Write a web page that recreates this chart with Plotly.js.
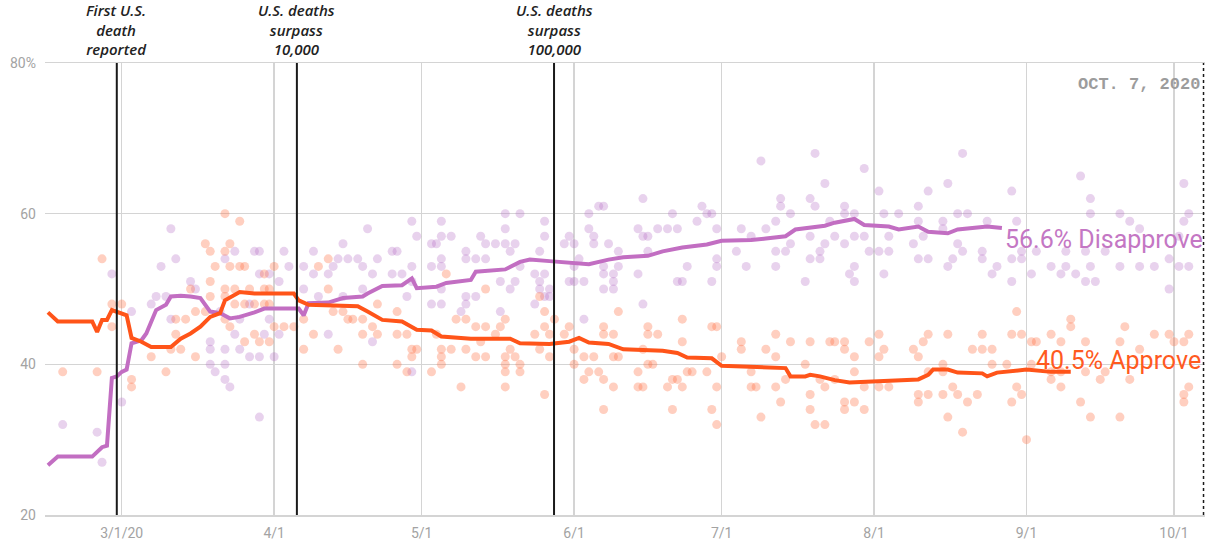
<!DOCTYPE html>
<html>
<head>
<meta charset="utf-8">
<script src="https://cdn.plot.ly/plotly-3.0.1.min.js"></script>
<style>
html,body{margin:0;padding:0;background:#fff;}
#chart{width:1205px;height:543px;}
</style>
</head>
<body>
<div id="chart"></div>
<script>
const YEAR = '2020-';

// Smoothed average lines
const approveLineDates = ['02-15','02-17','02-24','02-25','02-26','02-27','02-28','03-01','03-02','03-03',
  '03-05','03-07','03-11','03-13','03-15','03-17','03-19','03-21','03-22','03-25',
  '03-28','04-05','04-06','04-08','04-18','04-20','04-23','04-27','04-30','05-03',
  '05-05','05-11','05-19','05-21','05-27','05-31','06-02','06-04','06-08','06-11',
  '06-19','06-22','06-24','06-29','07-01','07-14','07-15','07-18','07-19','07-21',
  '07-24','07-27','07-30','08-10','08-12','08-13','08-16','08-18','08-23','08-24',
  '08-26','09-01','09-06','09-10'];
const approveLineValues = [46.9,45.7,45.7,44.3,45.9,45.9,47.2,46.8,46.5,43.5,
  43.0,42.3,42.3,43.4,44.1,45.0,46.3,46.8,48.5,49.6,
  49.4,49.4,48.5,47.9,47.7,47.0,45.9,45.7,44.6,44.5,
  43.7,43.4,43.4,42.8,42.7,43.0,43.5,42.9,42.7,42.0,
  41.8,41.5,40.9,40.8,39.8,39.5,38.4,38.4,38.6,38.4,
  37.9,37.6,37.7,38.0,38.6,39.3,39.3,38.9,38.8,38.4,
  38.9,39.3,39.0,39.0];

const disapproveLineDates = ['02-15','02-17','02-24','02-25','02-26','02-27','02-28','02-29','03-01','03-02',
  '03-03','03-05','03-06','03-08','03-10','03-11','03-13','03-15','03-17','03-19',
  '03-21','03-23','03-25','03-28','03-30','04-06','04-07','04-08','04-12','04-15',
  '04-19','04-20','04-23','04-27','04-29','04-30','05-04','05-06','05-11','05-12',
  '05-18','05-21','05-23','05-27','05-31','06-04','06-08','06-11','06-16','06-19',
  '06-23','06-28','07-01','07-07','07-10','07-14','07-16','07-18','07-22','07-24',
  '07-28','07-30','08-04','08-06','08-10','08-12','08-16','08-18','08-22','08-24',
  '08-27'];
const disapproveLineValues = [26.6,27.75,27.75,28.4,29.0,29.2,38.2,38.4,39.0,39.3,
  42.8,43.2,44.1,47.2,47.9,49.0,49.1,49.0,48.8,47.0,
  46.8,46.1,46.3,46.9,47.4,47.4,46.5,48.1,48.2,48.8,
  49.0,49.4,50.4,50.5,51.4,50.1,50.3,50.8,51.2,52.3,
  52.6,53.6,53.9,53.7,53.5,53.3,53.9,54.2,54.4,55.0,
  55.5,55.9,56.4,56.5,56.7,57.0,57.9,58.1,58.4,58.8,
  59.3,58.5,58.3,57.9,58.3,57.6,57.4,57.9,58.1,58.3,
  58.1];

// Individual polls
const approveDotDates = [
  '02-26','02-18','02-25','02-28','02-28','03-01','03-03','03-03','03-10','03-07',
  '03-11','03-22','03-25','03-18','03-19','03-23','03-22','03-20','03-23','03-25',
  '03-26','03-19','03-15','03-22','03-24','03-27','03-30','04-01','03-30','03-31',
  '03-19','03-22','03-24','03-26','03-28','03-30','03-31','03-16','03-18','03-12',
  '03-14','03-12','03-13','03-16','03-22','03-23','03-26','03-28','03-29','03-31',
  '04-01','04-03','04-05','04-07','04-07','04-09','04-10','04-12','04-12','04-13',
  '04-14','04-15','04-16','04-17','04-19','04-19','04-21','04-22','04-22','04-19',
  '04-26','04-26','04-26','04-28','04-29','04-29','04-28','04-30',
  '05-06','05-14','05-25','05-26','05-28','05-08','05-10','05-12','05-14','05-17',
  '05-18','05-16','05-04','05-05','05-07','05-10','05-13','05-12','05-14','05-18',
  '05-19','05-20','05-21','05-21','05-18','05-18','05-18','05-09','05-03','05-05',
  '05-05','05-24','05-25','05-26','05-27','05-26','05-27','05-30','05-31','06-01',
  '06-01','06-03','06-03','06-04','06-05','06-06','06-07','06-07','06-07','06-07',
  '06-09','06-09','06-09','06-10','06-10','06-14','06-14','06-15','06-16','06-16',
  '06-15','06-16','06-17','06-18','06-20','06-21','06-22','06-23','06-23','06-23',
  '06-24','06-25','06-21','06-28','06-29','06-30','06-30','06-30','06-29','07-01',
  '07-05','07-05','07-07','07-07','07-08','07-09','07-10','07-12','07-12','07-12',
  '07-13','07-14','07-15','07-18','07-19','07-19','07-19','07-20','07-23',
  '07-24','07-26','07-26','07-28','07-31','08-02','08-03','08-02','08-09','08-12',
  '08-11','08-10','08-15','08-16','08-21','08-23','08-23','08-25','08-25','08-29',
  '08-30','08-31','09-02','09-03','09-06','09-08','09-10','09-10','09-13','09-20',
  '09-21','09-24','09-27','09-30','10-01','10-04','10-03','07-22','07-22','07-24',
  '07-26','07-26','07-28','07-30','07-30','08-02','08-04','08-10','08-10','08-12',
  '08-15','08-16','08-17','08-18','08-19','08-20','08-22','08-29','08-30','08-31',
  '09-01','09-06','09-08','09-12','09-14','09-20','09-22','10-03','10-04','10-03',
  '09-16','09-13','09-17','09-02','08-28','08-15','08-12','07-28','07-21','09-06',
  '09-08'];
const approveDotValues = [
  54,39,39,48,45,48,38,37,39,41,
  42,60,59,56,55,56,55,53,53,53,
  53,51,50,50,50,50,52,53,50,50,
  49,49,48,48,48,48,48,47,47,46,
  46,44,42,41,46,45,43,44,43,43,
  45,45,45,42,46,44,53,54,50,47,
  42,47,46,46,46,44,45,48,44,40,
  47,44,40,44,42,41,39,42,
  52,50,49,47,46,46,46,45,45,45,
  46,44,44,42,42,42,43,41,41,41,
  42,41,40,39,40,39,37,37,39,41,
  40,44,42,45,44,36,41,44,45,42,
  40,41,38,39,41,39,38,45,44,34,
  44,41,37,41,47,39,37,37,45,44,
  42,40,40,44,37,38,38,37,43,46,
  39,39,34,39,45,45,37,32,34,41,
  43,42,39,37,37,33,42,44,41,37,
  35,38,43,40,43,36,34,32,43,
  43,43,42,41,43,44,42,41,42,44,
  43,41,40,44,42,44,42,42,40,44,
  47,44,43,43,44,43,46,45,43,43,
  45,42,44,44,43,44,43,37,32,38,
  35,34,35,34,37,37,37,36,35,36,
  36,33,37,36,31,35,36,35,37,36,
  30,38,37,35,33,33,38,36,37,35,
  38,39,39,40,40,39,39,39,38,39,
  39];

const disapproveDotDates = [
  '03-11','03-12','03-09','02-28','02-18','02-25','02-26','03-01','03-03','03-08',
  '03-10','03-07','03-11','03-15','03-16','03-19','03-19','03-19','03-20','03-22',
  '03-22','03-22','03-23','03-21','03-22','03-24','03-28','03-29','04-03','04-04',
  '03-29','03-31','04-02','03-27','03-25','03-24','03-25','03-27','03-29','03-30',
  '03-31','04-01','04-02','03-29','04-07','04-07','04-09','04-09','04-12','04-13',
  '04-14','04-15','04-16','04-18','04-19','04-20','04-22','04-21','04-25','04-25',
  '04-26','04-27','04-28','04-29','04-30','05-03','05-04','05-03','05-03','04-29',
  '04-29','04-21','04-19','04-15','04-12','04-10','04-29',
  '05-05','05-05','05-07','05-05','05-05','05-05','05-05','05-10','05-10','05-10',
  '05-10','05-09','05-12','05-12','05-13','05-14','05-14','05-16','05-17','05-17',
  '05-18','05-18','05-18','05-19','05-19','05-20','05-20','05-21','05-21','05-24',
  '05-25','05-25','05-25','05-26','05-26','05-26','05-26','05-27','05-27','05-24',
  '05-30','05-31','05-31','06-01','06-01','06-01','06-02','06-03','06-03','06-04',
  '06-04','06-05','06-05','06-06','06-07','06-08','06-07','06-07','06-07','06-09',
  '06-09','06-09','06-10','06-10','06-14','06-14','06-15','06-15','06-15','06-16',
  '06-16','06-18','06-20','06-21','06-22','06-22','06-23','06-24','06-26','06-27',
  '06-28','06-29','06-30','06-30','06-30','06-29','07-04','07-05','07-06','07-07',
  '07-09','07-10','07-12','07-12','07-12','07-13','07-13','07-14','07-15','07-15',
  '07-18','07-19','07-19','07-20','07-20','07-21','07-19','07-23',
  '07-30','07-22','08-02','08-12','08-16','08-19','08-29','09-12','09-14','10-03',
  '07-26','07-26','07-28','08-03','08-06','08-10','08-10','08-15','08-18','08-20',
  '08-24','08-30','09-14','09-20','09-22','09-24','10-03','10-04','07-24','07-22',
  '07-26','07-28','07-30','07-31','08-02','08-04','08-04','08-09','08-10','08-11',
  '08-12','08-15','08-18','08-17','08-19','08-16','08-23','08-23','08-26','08-25',
  '08-29','08-29','08-31','08-31','09-02','09-03','09-06','09-08','09-09','09-11',
  '09-13','09-15','09-14','09-17','09-20','09-24','09-27','09-30','09-30','10-02',
  '10-02','10-04','07-28','07-28','07-27','08-03','07-21','09-09','09-13'];
const disapproveDotValues = [
  58,54,53,52,32,31,27,35,47,49,
  49,48,46,51,50,43,42,40,39,42,
  40,38,37,47,54,55,55,55,55,53,
  52,52,51,48,46,44,42,41,41,44,
  46,41,44,33,53,50,55,52,52,53,
  54,56,54,54,53,58,54,52,52,55,
  55,52,49,59,57,56,56,53,48,53,
  51,43,50,49,44,49,39,
  59,57,57,54,53,50,48,55,54,49,
  48,47,54,49,57,56,54,56,51,47,
  60,58,56,55,50,56,51,60,53,52,
  55,51,50,59,57,52,49,50,49,48,
  56,57,51,56,53,51,54,46,51,60,
  58,57,56,61,61,56,53,52,50,52,
  51,50,55,53,58,52,62,48,57,55,
  57,58,58,60,58,51,51,53,59,61,
  60,60,58,54,53,51,55,58,53,57,
  67,58,59,55,53,62,61,55,56,60,
  51,62,57,68,61,55,54,59,
  66,64,63,63,64,68,63,65,62,64,
  61,60,60,60,60,61,59,59,60,60,
  59,59,60,60,59,58,59,60,57,56,
  56,57,57,55,55,57,55,56,54,57,
  54,58,56,54,55,53,55,54,53,52,
  51,54,54,55,52,55,53,52,53,52,
  51,51,53,55,53,53,53,54,50,57,
  53,53,53,51,52,52,54,55,55];

// Axes and annotations
const xTickDates = ['03-01','04-01','05-01','06-01','07-01','08-01','09-01','10-01'];
const xTickLabels = ['3/1/20','4/1','5/1','6/1','7/1','8/1','9/1','10/1'];
const yTickValues = [20, 40, 60, 80];
const yTickLabels = ['20', '40', '60', '80%'];
const eventDates = ['02-29 00:00', '04-05 15:00', '05-27 22:00'];
const eventLabels = ['First U.S.<br>death<br>reported', 'U.S. deaths<br>surpass<br>10,000', 'U.S. deaths<br>surpass<br>100,000'];
const currentDate = '10-07 00:00';
const currentLabel = 'OCT. 7, 2020';
const finalDisapprove = 56.6;
const finalApprove = 40.5;
const xRange = ['02-14 09:36', '10-07 07:12'];

const d = s => YEAR + s;
const ORANGE = '#ff5419';
const PURPLE = '#c26ec2';

const traces = [
  {x: disapproveDotDates.map(d), y: disapproveDotValues, type: 'scatter', mode: 'markers',
   marker: {size: 9, color: 'rgba(180,105,195,0.3)'}, hoverinfo: 'skip'},
  {x: approveDotDates.map(d), y: approveDotValues, type: 'scatter', mode: 'markers',
   marker: {size: 9, color: 'rgba(255,105,60,0.32)'}, hoverinfo: 'skip'},
  {x: disapproveLineDates.map(d), y: disapproveLineValues, type: 'scatter', mode: 'lines',
   line: {color: PURPLE, width: 4}},
  {x: approveLineDates.map(d), y: approveLineValues, type: 'scatter', mode: 'lines',
   line: {color: ORANGE, width: 4}}
];

const shapes = eventDates.map(e => ({
  type: 'line', xref: 'x', yref: 'paper', x0: d(e), x1: d(e), y0: 0, y1: 1,
  line: {color: '#1a1a1a', width: 2}, layer: 'above'
}));
shapes.push({type: 'line', xref: 'x', yref: 'paper', x0: d(currentDate), x1: d(currentDate), y0: 0, y1: 1,
  line: {color: '#1a1a1a', width: 1.5, dash: 'dot'}, layer: 'above'});

const annotations = eventDates.map((e, i) => ({
  x: d(e), xref: 'x', y: 1, yref: 'paper', yanchor: 'bottom', xanchor: 'center',
  text: eventLabels[i], showarrow: false, yshift: 2,
  font: {family: 'Open Sans', size: 15, color: '#222', style: 'italic', weight: 600}
}));
annotations.push({
  x: 1, xref: 'paper', xanchor: 'right', xshift: -3, y: 77.1, yref: 'y', yanchor: 'middle',
  text: currentLabel, showarrow: false,
  font: {family: 'Liberation Mono', size: 17, color: '#9c9c9c', weight: 700}
});
annotations.push({
  x: d('08-27 04:00'), xref: 'x', xanchor: 'left', y: finalDisapprove, yref: 'y', yanchor: 'middle',
  text: finalDisapprove.toFixed(1) + '% Disapprove', showarrow: false,
  font: {family: 'Roboto', size: 25, color: '#c477c4'}
});
annotations.push({
  x: d('09-02 12:00'), xref: 'x', xanchor: 'left', y: finalApprove, yref: 'y', yanchor: 'middle',
  text: finalApprove.toFixed(1) + '% Approve', showarrow: false,
  font: {family: 'Roboto', size: 25, color: '#ff5a1f'}
});

const layout = {
  width: 1205, height: 543,
  margin: {l: 45, r: 0, t: 63, b: 28, pad: 0},
  paper_bgcolor: '#fff', plot_bgcolor: '#fff',
  showlegend: false,
  xaxis: {
    type: 'date', range: xRange.map(d),
    tickvals: xTickDates.map(d), ticktext: xTickLabels,
    showgrid: true, gridcolor: '#d4d4d4', gridwidth: 1.5,
    showline: true, mirror: true, linecolor: '#d4d4d4', linewidth: 1.5,
    ticks: '', ticklabelstandoff: 5,
    tickfont: {family: 'Roboto', size: 14, color: '#a3a3a3'},
    zeroline: false, fixedrange: true
  },
  yaxis: {
    range: [20, 80], tickvals: yTickValues, ticktext: yTickLabels,
    showgrid: true, gridcolor: '#d4d4d4', gridwidth: 1.5,
    showline: false, ticks: '', ticklabelstandoff: 8,
    tickfont: {family: 'Roboto', size: 14, color: '#a3a3a3'},
    zeroline: false, fixedrange: true
  },
  shapes: shapes,
  annotations: annotations
};

Plotly.newPlot('chart', traces, layout, {displayModeBar: false, staticPlot: true});
</script>
</body>
</html>
